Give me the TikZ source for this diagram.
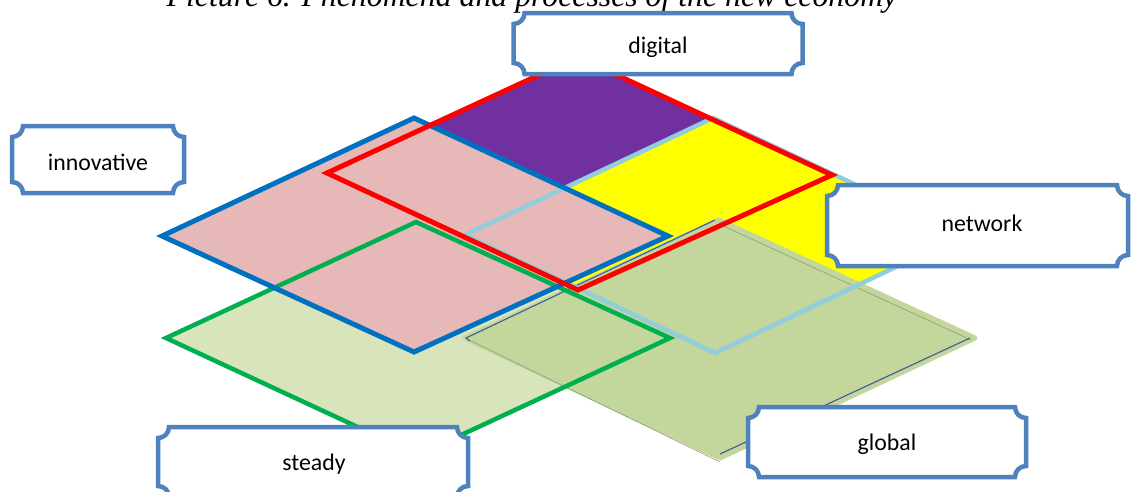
\documentclass[tikz,border=0pt]{standalone}
\usepackage{fontspec}
\setmainfont{Liberation Serif}
\newfontfamily\boxfont{Carlito}
\definecolor{pinkfill}{HTML}{E6B9B8}
\definecolor{purplefill}{HTML}{7030A0}
\definecolor{yellowfill}{HTML}{FFFF00}
\definecolor{steadyfill}{HTML}{D8E4BC}
\definecolor{globalfill}{HTML}{C3D69B}
\definecolor{innoline}{HTML}{0070C0}
\definecolor{digiline}{HTML}{FF0000}
\definecolor{netline}{HTML}{92CDDC}
\definecolor{steadyline}{HTML}{00B050}
\definecolor{boxline}{HTML}{4F81BD}
\definecolor{bevelblue}{HTML}{3B5C99}
\definecolor{bevelgray}{HTML}{8D9C78}
\newcommand\plaqueradius{11pt}
\newcommand\drawplaque[1]{%
  \begin{scope}[x=1pt,y=1pt]
  \draw[plaqueline]
    ([yshift=-\plaqueradius]#1.north west) arc[start angle=-90,end angle=0,radius=\plaqueradius]
    -- ([xshift=-\plaqueradius]#1.north east) arc[start angle=180,end angle=270,radius=\plaqueradius]
    -- ([yshift=\plaqueradius]#1.south east) arc[start angle=90,end angle=180,radius=\plaqueradius]
    -- ([xshift=\plaqueradius]#1.south west) arc[start angle=0,end angle=90,radius=\plaqueradius]
    -- cycle;
  \end{scope}}
\tikzset{
  plaqueline/.style={draw=boxline,line width=4.5pt,fill=white},
  boxnode/.style={inner sep=0pt,outer sep=0pt,font=\boxfont\fontsize{23.8}{28}\selectfont,text=black},
  outline/.style={line width=5pt,line join=miter},
}
\begin{document}
\begin{tikzpicture}[x=1pt,y=-1pt]
\useasboundingbox (0,0) rectangle (1132,491);
\clip (0,0) rectangle (1132,491);
% caption (cut at top, as in the reference)
\node[anchor=base,inner sep=0pt,font=\itshape\fontsize{31.8}{36}\selectfont] (caption) at (532,6) {Picture 6. Phenomena and processes of the new economy};
% diamond corners
\coordinate (iL) at (162,236); \coordinate (iT) at (414,118); \coordinate (iR) at (668,236); \coordinate (iB) at (414,352);
\coordinate (dL) at (327,173); \coordinate (dT) at (578,57);  \coordinate (dR) at (832,175); \coordinate (dB) at (578,290);
\coordinate (nL) at (465,235); \coordinate (nT) at (713,118); \coordinate (nR) at (963,235); \coordinate (nB) at (715,353);
\coordinate (sL) at (166,338); \coordinate (sT) at (416,222); \coordinate (sR) at (670,338); \coordinate (sB) at (418,455);
\coordinate (gL) at (465,338); \coordinate (gT) at (719,220); \coordinate (gR) at (975,338); \coordinate (gB) at (720,458);
% fills
\fill[steadyfill] (sL) -- (sT) -- (sR) -- (sB) -- cycle;
\fill[purplefill] (dL) -- (dT) -- (dR) -- (dB) -- cycle;
\fill[yellowfill] (nL) -- (nT) -- (nR) -- (nB) -- cycle;
\fill[pinkfill] (iL) -- (iT) -- (iR) -- (iB) -- cycle;
\filldraw[globalfill,line width=5pt,line join=round] (gL) -- (gT) -- (gR) -- (gB) -- cycle;
% global bevel lines
\draw[bevelgray,line width=0.6pt] ([xshift=4pt,yshift=-2pt]gL) -- ([yshift=-4pt]gB);
\draw[bevelgray,line width=0.6pt] ([yshift=-4pt]gT) -- ([xshift=-4pt,yshift=-2pt]gR);
\draw[bevelblue,line width=1.1pt,line join=round] ([xshift=-4pt]gT) -- ([xshift=1pt]gL) -- ([xshift=5pt,yshift=-3pt]gL);
\draw[bevelblue,line width=1.1pt] ([xshift=-5pt]gR) -- ([yshift=4pt]gB);
% outlines
\draw[outline,netline,line width=4.5pt] (nL) -- (nT) -- (nR) -- (nB) -- cycle;
\draw[outline,steadyline,line width=4.5pt] (sL) -- (sT) -- (sR) -- (sB) -- cycle;
\draw[outline,innoline] (iL) -- (iT) -- (iR) -- (iB) -- cycle;
\draw[outline,digiline] (dL) -- (dT) -- (dR) -- (dB) -- cycle;
% label boxes
\node[boxnode,minimum width=289pt,minimum height=61pt] (digital) at (658,43.5) {};
\drawplaque{digital}
\node[boxnode] (digitaltext) at (658,47) {digital};
\node[boxnode,minimum width=172pt,minimum height=67pt] (innovative) at (98,159.5) {};
\drawplaque{innovative}
\node[boxnode] (innovativetext) at (98,162) {innovative};
\node[boxnode,minimum width=301pt,minimum height=81pt] (network) at (977.5,225.5) {};
\drawplaque{network}
\node[boxnode] (networktext) at (982,223) {network};
\node[boxnode,minimum width=310pt,minimum height=70pt] (steady) at (313,462) {};
\drawplaque{steady}
\node[boxnode] (steadytext) at (314,464) {steady};
\node[boxnode,minimum width=278pt,minimum height=70pt] (global) at (887,442) {};
\drawplaque{global}
\node[boxnode] (globaltext) at (887,444) {global};
\end{tikzpicture}
\end{document}
